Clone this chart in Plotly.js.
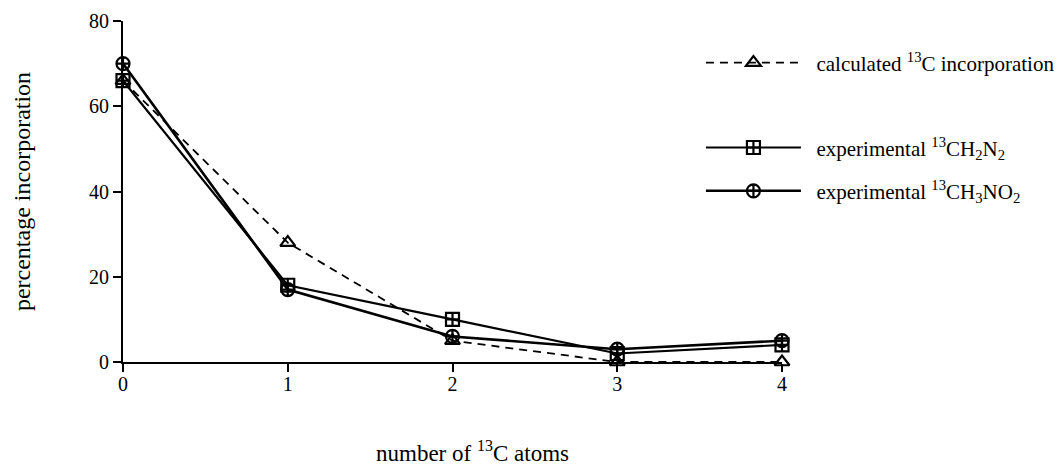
<!DOCTYPE html>
<html><head><meta charset="utf-8">
<script src="https://cdn.plot.ly/plotly-3.0.1.min.js"></script>
<style>html,body{margin:0;padding:0;background:#fff}#chart{width:1058px;height:468px}</style>
</head><body><div id="chart"></div>
<script>
var atoms = [0, 1, 2, 3, 4];
var calculated = [66, 28, 5, 0, 0];
var expCH2N2 = [66, 18, 10, 2, 4];
var expCH3NO2 = [70, 17, 6, 3, 5];
var names = ['calculated <sup>13</sup>C incorporation', 'experimental <sup>13</sup>CH<sub>2</sub>N<sub>2</sub>', 'experimental <sup>13</sup>CH<sub>3</sub>NO<sub>2</sub>'];
var xTicks = [0, 1, 2, 3, 4];
var yTicks = [0, 20, 40, 60, 80];
var xTitle = 'number of <sup>13</sup>C atoms';
var yTitle = 'percentage incorporation';

var font = 'Liberation Serif, Times New Roman, serif';
var pad = '\u2002';
var traces = [
  {x: atoms, y: calculated, name: pad + names[0], mode: 'lines+markers', legend: 'legend',
   line: {color: '#000', width: 1.8, dash: '8px,6px'},
   marker: {symbol: 'triangle-up-open', size: 13, color: '#000', line: {width: 2.2, color: '#000'}}, cliponaxis: false},
  {x: atoms, y: expCH2N2, name: pad + names[1], mode: 'lines+markers', legend: 'legend2',
   line: {color: '#000', width: 2.2},
   marker: {symbol: 'square-cross-open', size: 13, color: '#000', line: {width: 2.2, color: '#000'}}, cliponaxis: false},
  {x: atoms, y: expCH3NO2, name: pad + names[2], mode: 'lines+markers', legend: 'legend3',
   line: {color: '#000', width: 2.6},
   marker: {symbol: 'circle-cross-open', size: 13, color: '#000', line: {width: 2.2, color: '#000'}}, cliponaxis: false}
];
function leg(y) {
  return {x: 0.877, y: y, xanchor: 'left', yanchor: 'middle', bgcolor: 'rgba(0,0,0,0)', borderwidth: 0,
          itemwidth: 95, font: {family: font, size: 21, color: '#000'}};
}
var layout = {
  width: 1058, height: 468,
  margin: {l: 123, r: 276, t: 21, b: 106, autoexpand: false},
  paper_bgcolor: '#fff', plot_bgcolor: '#fff',
  showlegend: true,
  font: {family: font, color: '#000', size: 20},
  xaxis: {range: [0, 4], tickvals: xTicks, ticktext: xTicks.map(String), showgrid: false, zeroline: false,
          showline: true, linecolor: '#000', linewidth: 2, ticks: 'outside', ticklen: 8, tickwidth: 2, tickcolor: '#000',
          tickfont: {family: font, size: 20}, automargin: false, ticklabelstandoff: -5},
  yaxis: {range: [0, 80], tickvals: yTicks, ticktext: yTicks.map(String), showgrid: false, zeroline: false,
          showline: true, linecolor: '#000', linewidth: 2, ticks: 'outside', ticklen: 8, tickwidth: 2, tickcolor: '#000',
          tickfont: {family: font, size: 20}, automargin: false,
          title: {text: yTitle, font: {family: font, size: 24}, standoff: 52}},
  annotations: [{text: xTitle, xref: 'paper', yref: 'paper', x: 0.53, y: -0.262, xanchor: 'center', yanchor: 'middle',
                 showarrow: false, font: {family: font, size: 23, color: '#000'}}],
  legend: leg(0.877),
  legend2: leg(0.628),
  legend3: leg(0.501)
};
Plotly.newPlot('chart', traces, layout, {displayModeBar: false, staticPlot: true});
</script></body></html>
